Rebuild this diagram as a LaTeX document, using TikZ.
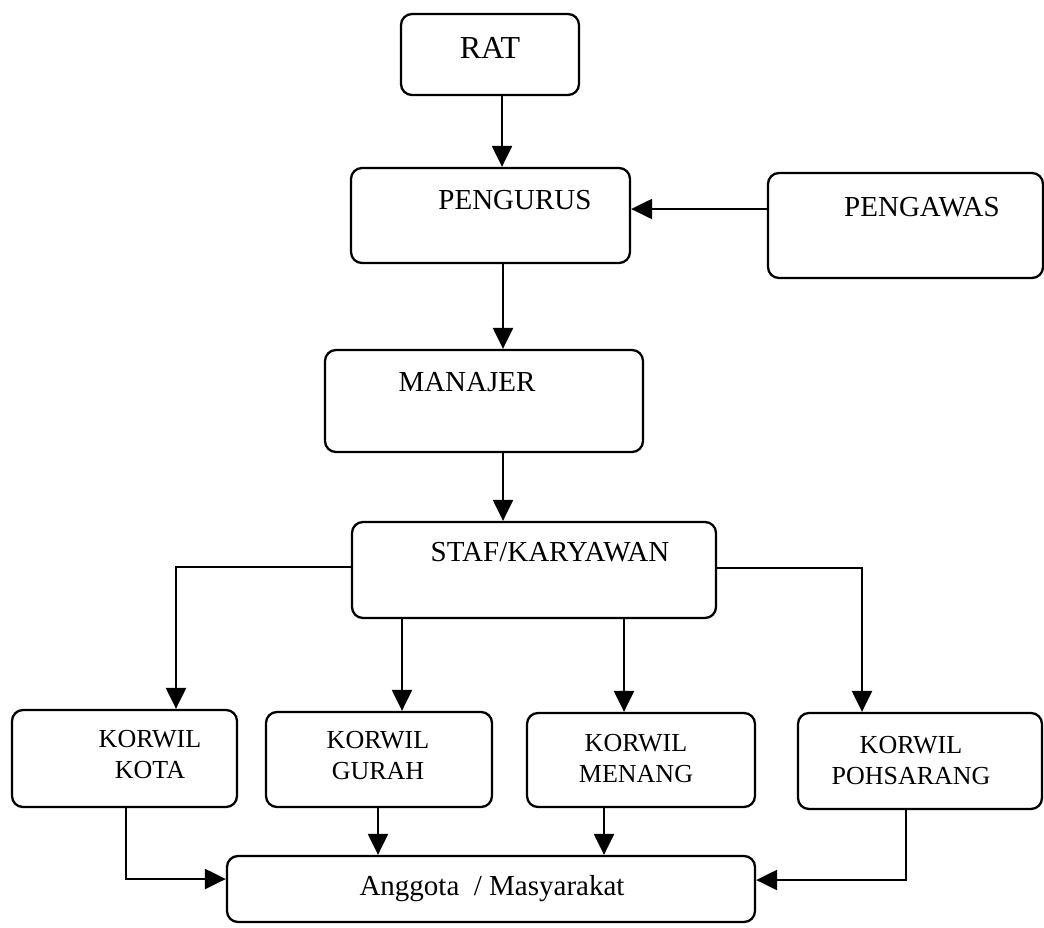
\documentclass[tikz,border=0pt]{standalone}
\usepackage{fontspec}
\setmainfont{Liberation Serif}
\usetikzlibrary{arrows.meta}
\tikzset{
  box/.style={draw, line width=2.3pt, rounded corners=11pt, inner sep=0pt},
  lbl/.style={inner sep=0pt, align=center, font=\fontsize{29}{33}\selectfont},
  klbl/.style={inner sep=0pt, align=center, font=\fontsize{26}{31}\selectfont},
  arr/.style={line width=2.3pt, -{Triangle[length=21pt,width=20pt]}},
  ln/.style={line width=2.3pt}
}
\begin{document}
\begin{tikzpicture}[x=1pt,y=-1pt]
\useasboundingbox (0,0) rectangle (1044,927);
% boxes
\node[box, minimum width=178pt, minimum height=81pt] (rat) at (490,54.5) {};
\node[box, minimum width=279pt, minimum height=95pt] (pengurus) at (490.5,215.5) {};
\node[box, minimum width=275pt, minimum height=105pt] (pengawas) at (905.5,225.5) {};
\node[box, minimum width=318pt, minimum height=102pt] (manajer) at (484,401) {};
\node[box, minimum width=364pt, minimum height=96pt] (staf) at (534,570) {};
\node[box, minimum width=225pt, minimum height=97pt] (kota) at (124.5,758.5) {};
\node[box, minimum width=226pt, minimum height=95pt] (gurah) at (379,759.5) {};
\node[box, minimum width=228pt, minimum height=94pt] (menang) at (641,760) {};
\node[box, minimum width=244pt, minimum height=96pt] (pohsarang) at (920,761) {};
\node[box, minimum width=528pt, minimum height=66pt] (anggota) at (491,889) {};
% labels
\node[lbl, font=\fontsize{32}{36}\selectfont] (ratT) at (490,48) {RAT};
\node[lbl] (pengurusT) at (515,200) {PENGURUS};
\node[lbl] (pengawasT) at (922,207) {PENGAWAS};
\node[lbl] (manajerT) at (467,382) {MANAJER};
\node[lbl] (stafT) at (550,552) {STAF/KARYAWAN};
\node[klbl] (kotaT) at (150,755) {KORWIL\\KOTA};
\node[klbl] (gurahT) at (378,756) {KORWIL\\GURAH};
\node[klbl] (menangT) at (636,759) {KORWIL\\MENANG};
\node[klbl] (pohsarangT) at (911,761) {KORWIL\\POHSARANG};
\node[lbl] (anggotaT) at (492,889) {Anggota~~/ Masyarakat};
% connectors
\draw[arr] ([xshift=12pt]rat.south) -- ([xshift=12pt]rat.south |- pengurus.north);
\draw[arr] ([yshift=16.5pt]pengawas.west) -- ([yshift=16.5pt]pengawas.west -| pengurus.east);
\draw[arr] ([xshift=12.5pt]pengurus.south) -- ([xshift=12.5pt]pengurus.south |- manajer.north);
\draw[arr] ([xshift=19pt]manajer.south) -- ([xshift=19pt]manajer.south |- staf.north);
\draw[arr] ([yshift=3pt]staf.west) -| ([xshift=51.5pt]kota.north);
\draw[arr] ([xshift=23pt]gurah.north |- staf.south) -- ([xshift=23pt]gurah.north);
\draw[arr] ([xshift=-17pt]menang.north |- staf.south) -- ([xshift=-17pt]menang.north);
\draw[arr] ([yshift=2pt]staf.east) -| ([xshift=-58pt]pohsarang.north);
\draw[arr] ([xshift=1.5pt]kota.south) |- ([yshift=10pt]anggota.west);
\draw[arr] ([xshift=-1pt]gurah.south) -- ([xshift=-1pt]gurah.south |- anggota.north);
\draw[arr] ([xshift=-37pt]menang.south) -- ([xshift=-37pt]menang.south |- anggota.north);
\draw[arr] ([xshift=-14pt]pohsarang.south) |- ([yshift=9pt]anggota.east);
\end{tikzpicture}
\end{document}
